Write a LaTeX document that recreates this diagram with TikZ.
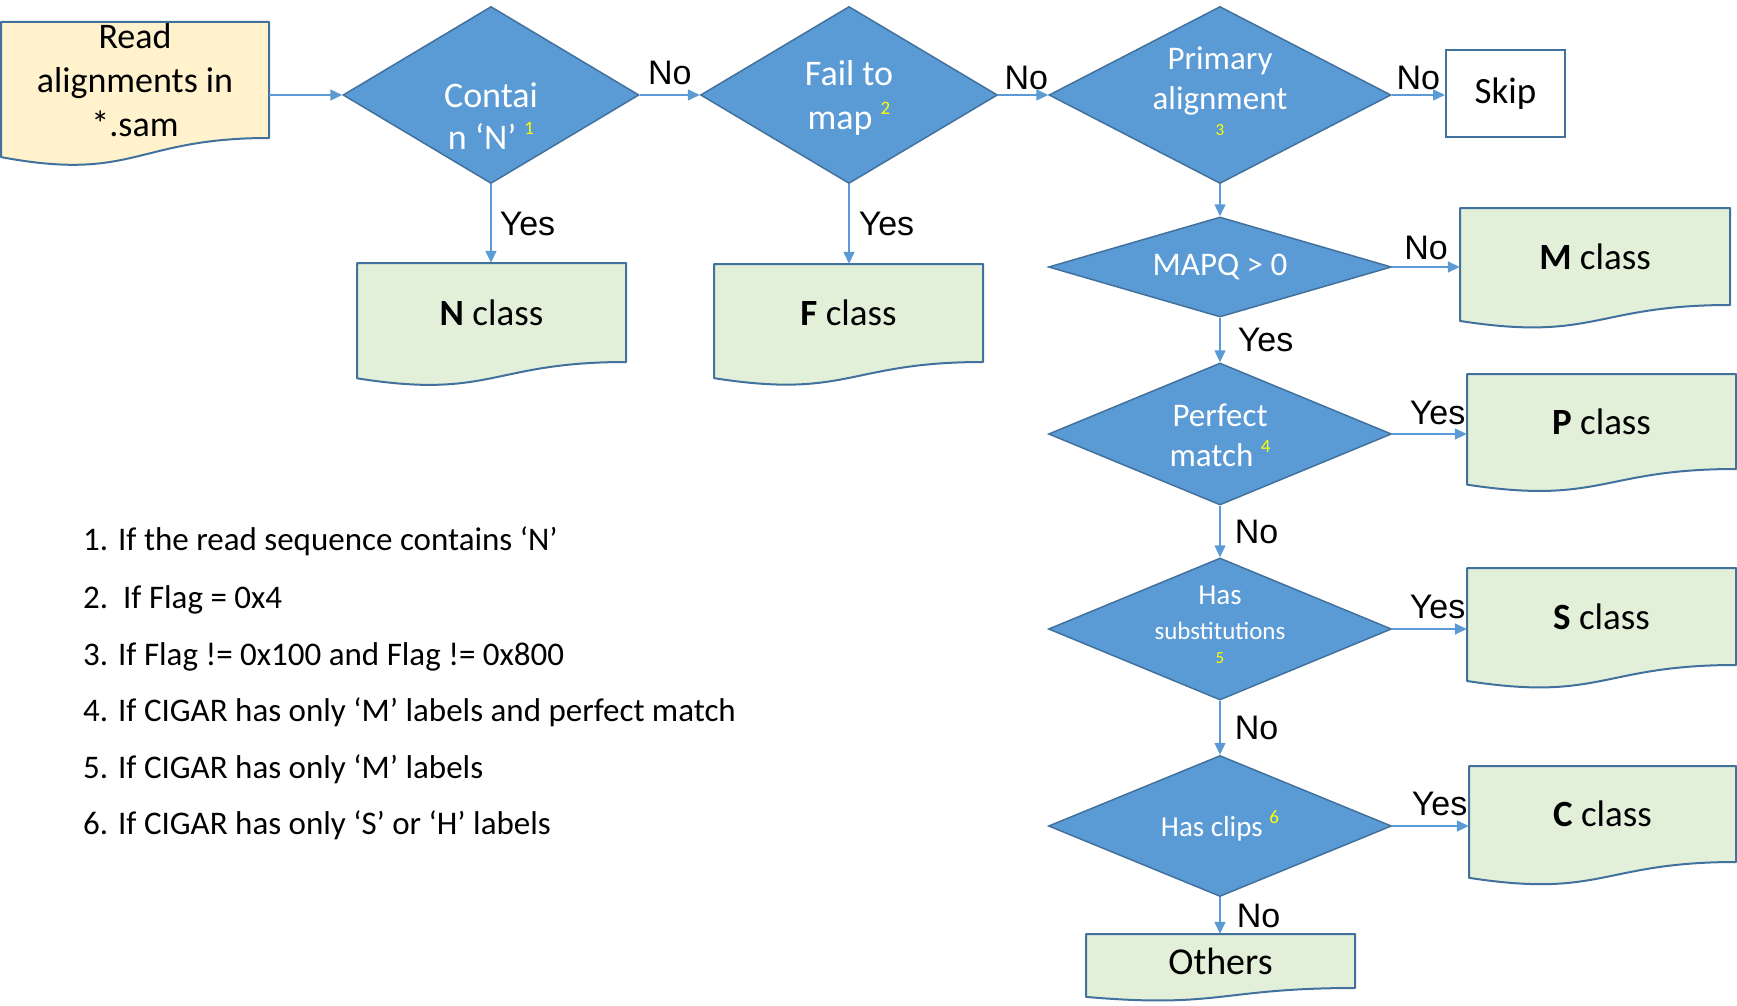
\documentclass[tikz,border=0pt]{standalone}
\usepackage{fontspec}
\setmainfont{Carlito}
\newfontfamily\arialf{Liberation Sans}
\usetikzlibrary{shapes.geometric,arrows.meta,calc}
\definecolor{diafill}{HTML}{5B9BD5}
\definecolor{diadraw}{HTML}{41719C}
\definecolor{boxdraw}{HTML}{41719C}
\definecolor{readfill}{HTML}{FFF2CC}
\definecolor{greenfill}{HTML}{E2F0D9}
\definecolor{arrowc}{HTML}{5B9BD5}
\definecolor{supyel}{HTML}{FFFF00}
\newcommand\fs[2]{\fontsize{#1}{#2}\selectfont}
\newcommand\supn[1]{\raisebox{0.42em}{\fs{19}{19}\color{supyel}#1}}
\tikzset{
  dia/.style={diamond, draw=diadraw, fill=diafill, line width=1.5pt, inner sep=0pt},
  dtext/.style={text=white, align=center, inner sep=0pt},
  docin/.style={inner sep=0pt, align=center, text=black},
  docline/.style={draw=boxdraw, line width=2pt, line join=round},
  lab/.style={font=\arialf\fs{34}{34}, inner sep=0pt, text=black},
  arr/.style={draw=arrowc, line width=1.5pt, -{Triangle[length=12pt,width=11pt]}},
  foot/.style={anchor=base west, inner sep=0pt, font=\fs{33}{33}, text=black},
}
% name, x1, y1, x2, y2 (bottom of straight part), fill, font, text
\newcommand\docnode[8]{%
  \fill[#6] (#2,#3) -- (#4,#3) -- (#4,#5) .. controls ({(#2+#4)/2},#5) and ({(#2+#4)/2},{#5+0.381*(#5-#3)}) .. (#2,{#5+0.1646*(#5-#3)}) -- cycle;
  \node[docin, font=#7, minimum width={#4-#2}, minimum height={#5-#3}] (#1) at ({(#2+#4)/2},{(#3+#5)/2}) {#8};
  \draw[docline] (#2,#3) -- (#4,#3) -- (#4,#5) .. controls ({(#2+#4)/2},#5) and ({(#2+#4)/2},{#5+0.381*(#5-#3)}) .. (#2,{#5+0.1646*(#5-#3)}) -- cycle;
}
\begin{document}
\begin{tikzpicture}[x=1pt,y=-1pt]
\useasboundingbox (0,0) rectangle (1737,1006);

% document boxes
\docnode{read}{1}{22}{269}{138}{readfill}{\fs{36}{44}}{Read\\alignments in\\*.sam}
\docnode{n}{357}{263}{626}{362}{greenfill}{\fs{37}{40}}{\textbf{N} class}
\docnode{f}{714}{264}{983}{362}{greenfill}{\fs{37}{40}}{\textbf{F} class}
\docnode{m}{1460}{208}{1730}{305}{greenfill}{\fs{37}{40}}{\textbf{M} class}
\docnode{p}{1467}{374}{1736}{469}{greenfill}{\fs{37}{40}}{\textbf{P} class}
\docnode{s}{1467}{568}{1736}{665}{greenfill}{\fs{37}{40}}{\textbf{S} class}
\docnode{c}{1469}{766}{1736}{862}{greenfill}{\fs{37}{40}}{\textbf{C} class}
\docnode{oth}{1086}{934}{1355}{988}{greenfill}{\fs{38}{40}}{Others}

\node[draw=boxdraw, line width=2pt, fill=white, minimum width=119pt, minimum height=87pt, inner sep=0pt, font=\fs{37}{37}] (skip) at (1505.5,93.5) {Skip};

% diamonds
\node[dia, minimum width=296pt, minimum height=177pt] (d1) at (491,95) {};
\node[dia, minimum width=297pt, minimum height=177pt] (d2) at (849,95) {};
\node[dia, minimum width=342pt, minimum height=177pt] (d3) at (1220,95) {};
\node[dia, minimum width=343pt, minimum height=100pt] (d4) at (1220,267) {};
\node[dia, minimum width=343pt, minimum height=142pt] (d5) at (1220,434) {};
\node[dia, minimum width=343pt, minimum height=142pt] (d6) at (1220,629) {};
\node[dia, minimum width=343pt, minimum height=141pt] (d7) at (1220,826) {};

% diamond texts
\node[dtext, font=\fs{36}{42}] (t1) at ($(d1)+(0,21)$) {Contai\\n ‘N’ \supn{1}};
\node[dtext, font=\fs{36}{44}] (t2) at ($(d2)+(0,3)$) {Fail to\\map \supn{2}};
\node[dtext, font=\fs{33}{40}] (t3) at (1220,81) {Primary\\alignment};
\node[dtext, font=\fs{17}{17}, text=supyel] (t3s) at (1220,130) {3};
\node[dtext, font=\fs{33}{33}] (t4) at (d4) {MAPQ > 0};
\node[dtext, font=\fs{33}{40}] (t5) at (1220,435) {Perfect\\match \supn{4}};
\node[dtext, font=\fs{25}{35}] (t6) at (1220,613) {\fs{29}{35}Has\\substitutions};
\node[dtext, font=\fs{17}{17}, text=supyel] (t6s) at (1220,658) {5};
\node[dtext, font=\fs{29}{29}] (t7) at (d7) {Has clips \supn{6}};

% connectors
\draw[arr] (d1.west -| read.east) -- (d1.west);
\draw[arr] (d1.east) -- node[lab, above=9pt] {No} (d2.west);
\draw[arr] (d2.east) -- node[lab, above=4pt, xshift=3pt] {No} (d3.west);
\draw[arr] (d3.east) -- node[lab, above=4pt] {No} (d3.east -| skip.west);
\draw[arr] (d1.south) -- node[lab, right=8pt] {Yes} (d1.south |- n.north);
\draw[arr] (d2.south) -- node[lab, right=9pt] {Yes} (d2.south |- f.north);
\draw[arr] (d3.south) -- (d4.north);
\draw[arr] (d4.east) -- node[lab, above=6pt] {No} (d4.east -| m.west);
\draw[arr] (d4.south) -- node[lab, right=17pt] {Yes} (d5.north);
\draw[arr] (d5.east) -- node[lab, above=8pt, xshift=8pt] {Yes} (d5.east -| p.west);
\draw[arr] (d5.south) -- node[lab, right=14pt] {No} (d6.north);
\draw[arr] (d6.east) -- node[lab, above=9pt, xshift=8pt] {Yes} (d6.east -| s.west);
\draw[arr] (d6.south) -- node[lab, right=14pt] {No} (d7.north);
\draw[arr] (d7.east) -- node[lab, above=9pt, xshift=9pt] {Yes} (d7.east -| c.west);
\draw[arr] (d7.south) -- node[lab, right=16pt] {No} (d7.south |- oth.north);

% footnotes
\node[foot] (f1) at (83,550) {1. If the read sequence contains ‘N’};
\node[foot] (f2) at (83,608) {2.\ \ If Flag = 0x4};
\node[foot] (f3) at (83,665) {3. If Flag != 0x100 and Flag != 0x800};
\node[foot] (f4) at (83,721) {4. If CIGAR has only ‘M’ labels and perfect match};
\node[foot] (f5) at (83,778) {5. If CIGAR has only ‘M’ labels};
\node[foot] (f6) at (83,834) {6. If CIGAR has only ‘S’ or ‘H’ labels};
\end{tikzpicture}
\end{document}
